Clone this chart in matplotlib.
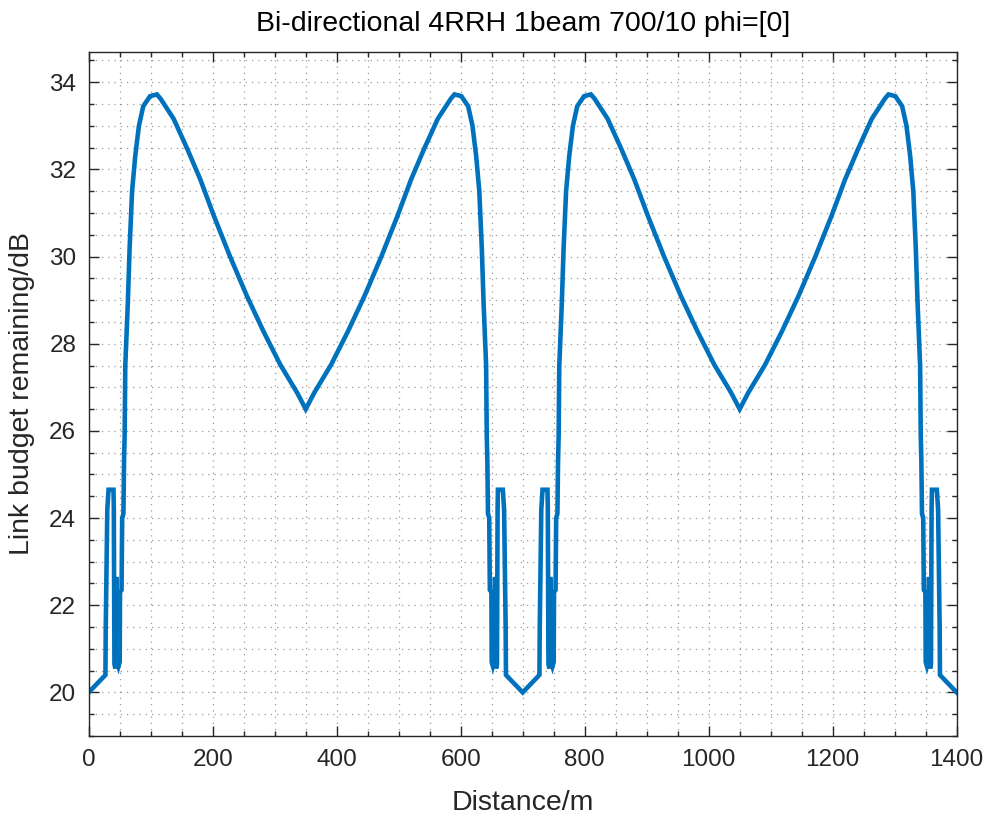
import numpy as np
import matplotlib
matplotlib.use('Agg')
import matplotlib.pyplot as plt
from matplotlib.ticker import MultipleLocator

plt.rcParams['font.family'] = ['Liberation Sans', 'DejaVu Sans']

# first quarter of the trace (0..350 m);
# the curve is mirrored about 350, 700 and 1050 m
quarter_x = [0, 27, 27.5, 30, 32, 40, 40.5, 41, 41.5, 43, 44, 45, 46, 48, 50,
             50.5, 53, 54, 56, 57, 58, 59, 63, 66, 70, 75, 81, 88, 99, 110,
             116, 137, 159, 180, 202, 228, 255, 282, 309, 336, 350]
quarter_y = [20.0, 20.4, 21.5, 24.2, 24.65, 24.65, 24.2, 22.6, 20.65, 20.55,
             22.6, 22.6, 20.7, 20.6, 20.7, 22.3, 22.35, 24.0, 24.1, 25.3, 25.9,
             27.5, 28.9, 30.2, 31.5, 32.3, 33.0, 33.45, 33.68, 33.72, 33.62,
             33.16, 32.47, 31.77, 30.93, 30.0, 29.1, 28.28, 27.52, 26.88, 26.5]

qx = np.array(quarter_x)
qy = np.array(quarter_y)
half_x = np.concatenate([qx, 700 - qx[::-1][1:]])
half_y = np.concatenate([qy, qy[::-1][1:]])
dist = np.concatenate([half_x, 1400 - half_x[::-1][1:]])
budget = np.concatenate([half_y, half_y[::-1][1:]])

fig = plt.figure(figsize=(9.88, 8.17), dpi=100)
ax = fig.add_axes([88.7 / 988, 1 - 736 / 817, (956.7 - 88.7) / 988, (736 - 51.7) / 817])

ax.plot(dist, budget, color='#0072BD', linewidth=3.3, solid_joinstyle='miter')

ax.set_xlim(0, 1400)
ax.set_ylim(19, 34.7)
ax.xaxis.set_major_locator(MultipleLocator(200))
ax.xaxis.set_minor_locator(MultipleLocator(50))
ax.yaxis.set_major_locator(MultipleLocator(2))
ax.yaxis.set_minor_locator(MultipleLocator(0.5))

ax.grid(True, which='both', linestyle=(0, (1, 4)), color='#9a9a9a', linewidth=0.9)
ax.set_axisbelow(True)

ax.tick_params(which='both', direction='in', top=True, right=True,
               colors='#262626', labelsize=17.5, width=1.0)
ax.tick_params(which='major', length=7, pad=9)
ax.tick_params(which='minor', length=3.5)
for s in ax.spines.values():
    s.set_color('#262626')
    s.set_linewidth(1.0)

ax.set_xlabel('Distance/m', fontsize=20.5, color='#262626', labelpad=14)
ax.set_ylabel('Link budget remaining/dB', fontsize=20.5, color='#262626', labelpad=10)
ax.set_title('Bi-directional 4RRH 1beam 700/10 phi=[0]', fontsize=20.5, pad=15)

fig.savefig('out.png', dpi=100)
